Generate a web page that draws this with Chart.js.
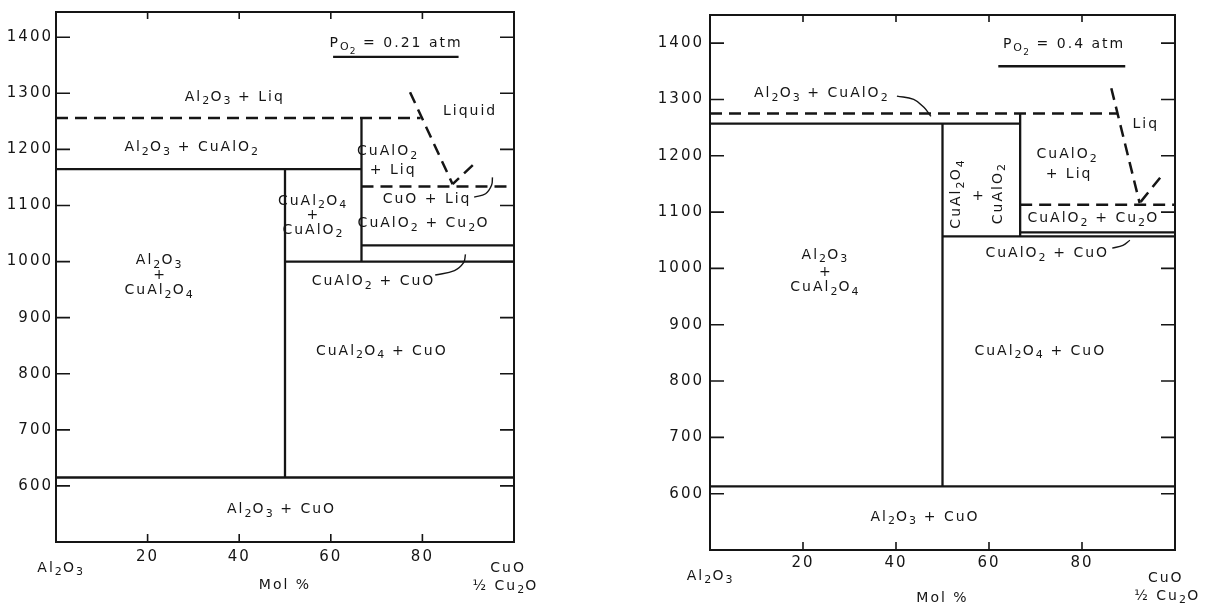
<!DOCTYPE html>
<html>
<head>
<meta charset="utf-8">
<script src="https://cdn.jsdelivr.net/npm/chart.js@4.4.1/dist/chart.umd.min.js"></script>
<style>
  html, body { margin: 0; background: #fff; }
  #wrap { position: relative; width: 1206px; height: 607px; }
  .panel { position: absolute; top: 0; width: 603px; height: 607px; }
</style>
</head>
<body>
<div id="wrap">
  <div class="panel" style="left:0"><canvas id="left"></canvas></div>
  <div class="panel" style="left:603px"><canvas id="right"></canvas></div>
</div>
<script>
// axis ticks
const molTicks = [20, 40, 60, 80];
const tempTicks = [600, 700, 800, 900, 1000, 1100, 1200, 1300, 1400];

// P(O2) = 0.21 atm  -- [mol %, T]
const leftSolid = [
  [[0, 615], [100, 615]],
  [[50, 615], [50, 1165]],
  [[0, 1165], [66.7, 1165]],
  [[66.7, 1000], [66.7, 1256]],
  [[50, 1000], [100, 1000]],
  [[66.7, 1029], [100, 1029]],
  [[60.5, 1365], [87.9, 1365]]
];
const leftDashed = [
  [[0, 1256], [79.6, 1256]],
  [[77.3, 1302], [86.6, 1138]],
  [[91, 1172], [86.6, 1138]],
  [[66.7, 1134], [100, 1134]]
];
const leftLeaders = [
  [[91.3, 1115], [93.8, 1121], [95.1, 1136], [95.3, 1150]],
  [[82.8, 976], [87, 984], [89, 998], [89.4, 1013]]
];
const leftLabels = [
  [74.2, 1392, 'P_{O_2} = 0.21 atm'],
  [39, 1296, 'Al_2O_3 + Liq'],
  [90.2, 1270, 'Liquid'],
  [29.7, 1206, 'Al_2O_3 + CuAlO_2'],
  [72.3, 1199, 'CuAlO_2'],
  [73.4, 1165, '+ Liq'],
  [56, 1110, 'CuAl_2O_4'],
  [56, 1085, '+'],
  [56, 1059, 'CuAlO_2'],
  [80.8, 1114, 'CuO + Liq'],
  [80.2, 1070, 'CuAlO_2 + Cu_2O'],
  [69.2, 967, 'CuAlO_2 + CuO'],
  [22.5, 1004, 'Al_2O_3'],
  [22.5, 978, '+'],
  [22.5, 951, 'CuAl_2O_4'],
  [71.1, 843, 'CuAl_2O_4 + CuO'],
  [49.2, 560, 'Al_2O_3 + CuO'],
  [1, 456, 'Al_2O_3'],
  [98.5, 456, 'CuO'],
  [98, 424, '½ Cu_2O']
];

// P(O2) = 0.4 atm
const rightSolid = [
  [[0, 613], [100, 613]],
  [[0, 1257], [66.7, 1257]],
  [[50, 613], [50, 1257]],
  [[66.7, 1057], [66.7, 1275]],
  [[50, 1057], [100, 1057]],
  [[66.7, 1064], [100, 1064]],
  [[62, 1359], [89.3, 1359]]
];
const rightDashed = [
  [[0, 1275], [87.6, 1275]],
  [[86.3, 1320], [92.4, 1116]],
  [[96.8, 1161], [92.4, 1116]],
  [[66.7, 1113], [100, 1113]]
];
const rightLeaders = [
  [[40.2, 1306], [43.8, 1300], [46, 1286], [47.5, 1270]],
  [[86.5, 1036], [88.8, 1041], [90.3, 1050]]
];
const rightLabels = [
  [76.1, 1401, 'P_{O_2} = 0.4 atm'],
  [24, 1313, 'Al_2O_3 + CuAlO_2'],
  [93.5, 1259, 'Liq'],
  [76.7, 1205, 'CuAlO_2'],
  [77, 1170, '+ Liq'],
  [57.6, 1131, '+'],
  [82.4, 1091, 'CuAlO_2 + Cu_2O'],
  [72.4, 1029, 'CuAlO_2 + CuO'],
  [24.7, 1026, 'Al_2O_3'],
  [24.7, 996, '+'],
  [24.7, 968, 'CuAl_2O_4'],
  [71, 856, 'CuAl_2O_4 + CuO'],
  [46.2, 561, 'Al_2O_3 + CuO'],
  [0, 456, 'Al_2O_3'],
  [97.8, 453, 'CuO'],
  [98.2, 421, '½ Cu_2O']
];
const rightRotated = [
  [52.7, 1132, 'CuAl_2O_4'],
  [61.7, 1132, 'CuAlO_2']
];

const INK = '#151515';
const FAMILY = '"DejaVu Sans", sans-serif';

// "Al_2O_3", "P_{O_2}" -> [char, level]
function parseChem(s) {
  const out = [];
  (function walk(str, lvl) {
    for (let i = 0; i < str.length; i++) {
      if (str[i] !== '_') { out.push([str[i], lvl]); continue; }
      if (str[i + 1] === '{') {
        let depth = 1, j = i + 2;
        while (j < str.length && depth) {
          if (str[j] === '{') depth++;
          else if (str[j] === '}') depth--;
          j++;
        }
        walk(str.slice(i + 2, j - 1), lvl + 1);
        i = j - 1;
      } else {
        out.push([str[i + 1], lvl + 1]);
        i++;
      }
    }
  })(s, 0);
  return out;
}

function drawChem(ctx, s, x, y, size, spacing) {
  const glyphs = parseChem(s).map(([c, l]) => ({ c, l }));
  const fontAt = l => Math.round(size * Math.pow(0.8, l)) + 'px ' + FAMILY;
  let w = 0;
  glyphs.forEach(g => {
    ctx.font = fontAt(g.l);
    g.w = ctx.measureText(g.c).width;
    w += g.w;
  });
  w += spacing * (glyphs.length - 1);
  let cx = x - w / 2;
  const base = y + size * 0.36;
  ctx.textAlign = 'left';
  ctx.textBaseline = 'alphabetic';
  glyphs.forEach(g => {
    ctx.font = fontAt(g.l);
    ctx.fillText(g.c, cx, base + g.l * size * 0.25);
    cx += g.w + (g.l ? spacing * 0.6 : spacing);
  });
}

function panelPlugin(labels, rotated) {
  return {
    id: 'panel',
    beforeDraw(chart) {
      chart.ctx.letterSpacing = '2px';
    },
    afterDraw(chart) {
      const { ctx, chartArea: a, scales: { x, y } } = chart;
      ctx.save();
      ctx.letterSpacing = '0px';
      ctx.strokeStyle = INK;
      ctx.lineWidth = 2;
      ctx.strokeRect(a.left, a.top, a.right - a.left, a.bottom - a.top);
      ctx.lineWidth = 1.6;
      ctx.beginPath();
      y.ticks.forEach(t => {
        const py = y.getPixelForValue(t.value);
        ctx.moveTo(a.left, py); ctx.lineTo(a.left + 14, py);
        ctx.moveTo(a.right, py); ctx.lineTo(a.right - 14, py);
      });
      x.ticks.forEach(t => {
        const px = x.getPixelForValue(t.value);
        ctx.moveTo(px, a.top); ctx.lineTo(px, a.top + 7);
        ctx.moveTo(px, a.bottom); ctx.lineTo(px, a.bottom - 8);
      });
      ctx.stroke();

      ctx.fillStyle = INK;
      labels.forEach(([vx, vy, text]) => {
        drawChem(ctx, text, x.getPixelForValue(vx), y.getPixelForValue(vy), 14, 2);
      });
      (rotated || []).forEach(([vx, vy, text]) => {
        ctx.save();
        ctx.translate(x.getPixelForValue(vx), y.getPixelForValue(vy));
        ctx.rotate(-Math.PI / 2);
        drawChem(ctx, text, 0, 0, 14, 2);
        ctx.restore();
      });
      ctx.restore();
    }
  };
}

function lineSets(solid, dashed, leaders) {
  const pts = seg => seg.map(([x, y]) => ({ x, y }));
  const sets = [];
  solid.forEach(seg => sets.push({ data: pts(seg), borderWidth: 2.3 }));
  dashed.forEach(seg => sets.push({ data: pts(seg), borderWidth: 2.5, borderDash: [12, 7] }));
  leaders.forEach(seg => sets.push({ data: pts(seg), borderWidth: 1.4, tension: 0.4 }));
  return sets.map(s => Object.assign({
    showLine: true, pointRadius: 0, borderColor: INK, fill: false
  }, s));
}

function makePanel(id, cfg) {
  const tickFont = { family: FAMILY, size: 15 };
  new Chart(document.getElementById(id), {
    type: 'scatter',
    data: { datasets: lineSets(cfg.solid, cfg.dashed, cfg.leaders) },
    options: {
      responsive: true,
      maintainAspectRatio: false,
      animation: false,
      layout: { padding: { top: cfg.top, right: cfg.right, left: 0, bottom: 0 } },
      plugins: { legend: { display: false }, tooltip: { enabled: false } },
      scales: {
        x: {
          type: 'linear', min: 0, max: 100,
          grid: { display: false, drawTicks: false },
          border: { display: false },
          afterBuildTicks: s => { s.ticks = molTicks.map(v => ({ value: v })); },
          afterFit: s => { s.height = cfg.xHeight; },
          ticks: { font: tickFont, color: INK, padding: cfg.xPad, maxRotation: 0, autoSkip: false,
                   callback: v => String(v) },
          title: { display: true, text: 'Mol %', color: INK,
                   font: { family: FAMILY, size: 14 }, padding: { top: 0, bottom: cfg.titlePad } }
        },
        y: {
          type: 'linear', min: 500, max: cfg.yMax,
          grid: { display: false, drawTicks: false },
          border: { display: false },
          afterBuildTicks: s => { s.ticks = tempTicks.map(v => ({ value: v })); },
          afterFit: s => { s.width = cfg.yWidth; },
          ticks: { font: tickFont, color: INK, padding: cfg.yPad, callback: v => String(v) }
        }
      }
    },
    plugins: [panelPlugin(cfg.labels, cfg.rotated)]
  });
}

makePanel('left', {
  solid: leftSolid, dashed: leftDashed, leaders: leftLeaders, labels: leftLabels,
  top: 8, right: 89, xHeight: 65, yWidth: 56, yMax: 1445, xPad: 6, yPad: 3, titlePad: 13
});
makePanel('right', {
  solid: rightSolid, dashed: rightDashed, leaders: rightLeaders, labels: rightLabels,
  rotated: rightRotated,
  top: 8, right: 31, xHeight: 57, yWidth: 107, yMax: 1450, xPad: 4, yPad: 6, titlePad: 0
});
</script>
</body>
</html>
